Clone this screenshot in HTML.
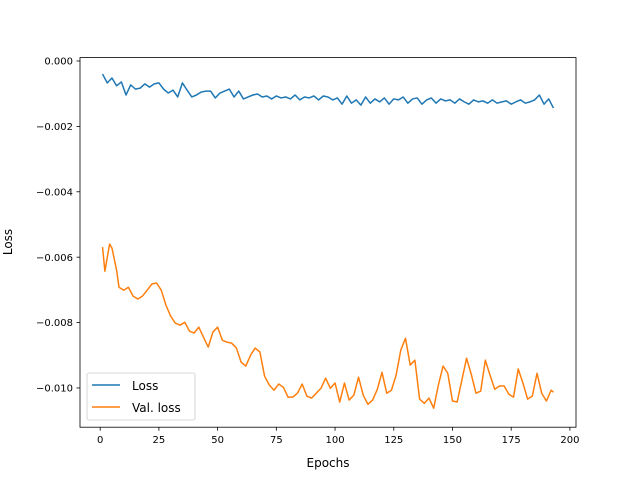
<!DOCTYPE html>
<html><head><meta charset="utf-8"><style>
body{margin:0;background:#fff}
svg text{font-family:"DejaVu Sans","Liberation Sans",sans-serif;font-size:10px;fill:#000}
</style></head><body>
<svg id="chart" width="640" height="480" xmlns="http://www.w3.org/2000/svg">
<rect width="640" height="480" fill="#fff"/>
<g id="marks"></g>
<rect x="80" y="57.6" width="496" height="369.6" fill="none" stroke="#000" stroke-width="0.8"/>
<g id="axes"></g>
<text x="328" y="467" text-anchor="middle" style="font-size:12px">Epochs</text>
<text x="0" y="0" text-anchor="middle" transform="translate(12,242) rotate(-90)" style="font-size:12px">Loss</text>
<g>
<rect x="87" y="373" width="108" height="47" rx="2" fill="#fff" fill-opacity="0.8" stroke="#ccc" stroke-width="0.8"/>
<line x1="92" y1="385" x2="120" y2="385" stroke="#1f77b4" stroke-width="1.5"/>
<text x="132" y="390" style="font-size:12px">Loss</text>
<line x1="92" y1="407" x2="120" y2="407" stroke="#ff7f0e" stroke-width="1.5"/>
<text x="132" y="412" style="font-size:12px">Val. loss</text>
</g>
</svg>
<script>
const lossEpochs=[];for(let e=1;e<=193;e+=2)lossEpochs.push(e);
const lossValues=[-0.00040,-0.00067,-0.00052,-0.00076,-0.00064,-0.00104,-0.00073,-0.00086,-0.00083,-0.00070,-0.00080,-0.00070,-0.00067,-0.00086,-0.00098,-0.00089,-0.00110,-0.00067,-0.00089,-0.00110,-0.00104,-0.00095,-0.00092,-0.00092,-0.00113,-0.00098,-0.00092,-0.00086,-0.00110,-0.00092,-0.00116,-0.00110,-0.00104,-0.00101,-0.00110,-0.00107,-0.00116,-0.00107,-0.00113,-0.00110,-0.00116,-0.00104,-0.00119,-0.00110,-0.00113,-0.00107,-0.00119,-0.00107,-0.00110,-0.00119,-0.00113,-0.00132,-0.00107,-0.00129,-0.00119,-0.00135,-0.00110,-0.00129,-0.00116,-0.00125,-0.00113,-0.00132,-0.00116,-0.00119,-0.00110,-0.00129,-0.00116,-0.00113,-0.00132,-0.00119,-0.00113,-0.00129,-0.00116,-0.00122,-0.00119,-0.00129,-0.00116,-0.00125,-0.00132,-0.00119,-0.00125,-0.00122,-0.00129,-0.00119,-0.00129,-0.00125,-0.00122,-0.00132,-0.00125,-0.00119,-0.00129,-0.00125,-0.00119,-0.00104,-0.00132,-0.00116,-0.00144];
const valEpochs=[1,2,4,5,7,8,10,12,14,16,18,20,22,24,26,28,30,32,34,36,38,40,42,44,46,48,50,52,54,56,58,60,62,64,66,68,70,72,74,76,78,80,82,84,86,88,90,92,94,96,98,100,102,104,106,108,110,112,114,116,118,120,122,124,126,128,130,132,134,136,138,140,142,144,146,148,150,152,154,156,158,160,162,164,166,168,170,172,174,176,178,180,182,184,186,188,190,192,193];
const valValues=[-0.00569,-0.00643,-0.00560,-0.00572,-0.00640,-0.00692,-0.00701,-0.00692,-0.00719,-0.00728,-0.00719,-0.00701,-0.00682,-0.00679,-0.00701,-0.00747,-0.00780,-0.00802,-0.00808,-0.00799,-0.00826,-0.00832,-0.00814,-0.00845,-0.00875,-0.00829,-0.00814,-0.00854,-0.00860,-0.00863,-0.00878,-0.00921,-0.00933,-0.00900,-0.00878,-0.00890,-0.00964,-0.00991,-0.01007,-0.00988,-0.00998,-0.01028,-0.01028,-0.01016,-0.00988,-0.01025,-0.01031,-0.01016,-0.01001,-0.00970,-0.01001,-0.00985,-0.01043,-0.00985,-0.01037,-0.01022,-0.00967,-0.01022,-0.01050,-0.01037,-0.01004,-0.00952,-0.01016,-0.01007,-0.00961,-0.00884,-0.00848,-0.00930,-0.00915,-0.01034,-0.01047,-0.01031,-0.01062,-0.00991,-0.00933,-0.00955,-0.01040,-0.01043,-0.00976,-0.00909,-0.00958,-0.01016,-0.01010,-0.00915,-0.00961,-0.01004,-0.00994,-0.00994,-0.01019,-0.01028,-0.00942,-0.00985,-0.01034,-0.01025,-0.00955,-0.01016,-0.01040,-0.01007,-0.01013];
const xTicks=[0,25,50,75,100,125,150,175,200];
const yTicks=[0,-0.002,-0.004,-0.006,-0.008,-0.010];
const yTickLabels=["0.000","−0.002","−0.004","−0.006","−0.008","−0.010"];
const X0=80,X1=576,Y0=57.6,Y1=427.2;
const xMin=-8.6,xMax=202.6,yMin=-0.0112,yMax=0.000104;
const xs=v=>X0+(v-xMin)/(xMax-xMin)*(X1-X0);
const ys=v=>Y0+(yMax-v)/(yMax-yMin)*(Y1-Y0);
const NS="http://www.w3.org/2000/svg";
const marks=document.getElementById('marks'),axes=document.getElementById('axes');
function line(ex,vals,color,name){
  const p=document.createElementNS(NS,'polyline');
  
  
  p.setAttribute('points',ex.map((e,i)=>xs(e).toFixed(2)+','+ys(vals[i]).toFixed(2)).join(' '));
  p.setAttribute('fill','none');p.setAttribute('stroke',color);p.setAttribute('stroke-width','1.5');p.setAttribute('stroke-linejoin','round');
  marks.appendChild(p);
}
line(lossEpochs,lossValues,'#1f77b4');

line(valEpochs,valValues,'#ff7f0e');

xTicks.forEach(t=>{
  const x=xs(t);
  const l=document.createElementNS(NS,'line');
  
  
  l.setAttribute('x1',x);l.setAttribute('x2',x);l.setAttribute('y1',Y1);l.setAttribute('y2',Y1+3.5);l.setAttribute('stroke','#000');l.setAttribute('stroke-width','0.8');
  axes.appendChild(l);
  const tx=document.createElementNS(NS,'text');
  
  
  tx.setAttribute('x',x);tx.setAttribute('y',Y1+16);tx.setAttribute('text-anchor','middle');tx.textContent=t;
  axes.appendChild(tx);
});
yTicks.forEach((t,i)=>{
  const y=ys(t);
  const l=document.createElementNS(NS,'line');
  
  
  l.setAttribute('x1',X0-3.5);l.setAttribute('x2',X0);l.setAttribute('y1',y);l.setAttribute('y2',y);l.setAttribute('stroke','#000');l.setAttribute('stroke-width','0.8');
  axes.appendChild(l);
  const tx=document.createElementNS(NS,'text');
  
  
  tx.setAttribute('x',X0-7);tx.setAttribute('y',y+3.6);tx.setAttribute('text-anchor','end');tx.textContent=yTickLabels[i];
  axes.appendChild(tx);
});
</script>
</body></html>
